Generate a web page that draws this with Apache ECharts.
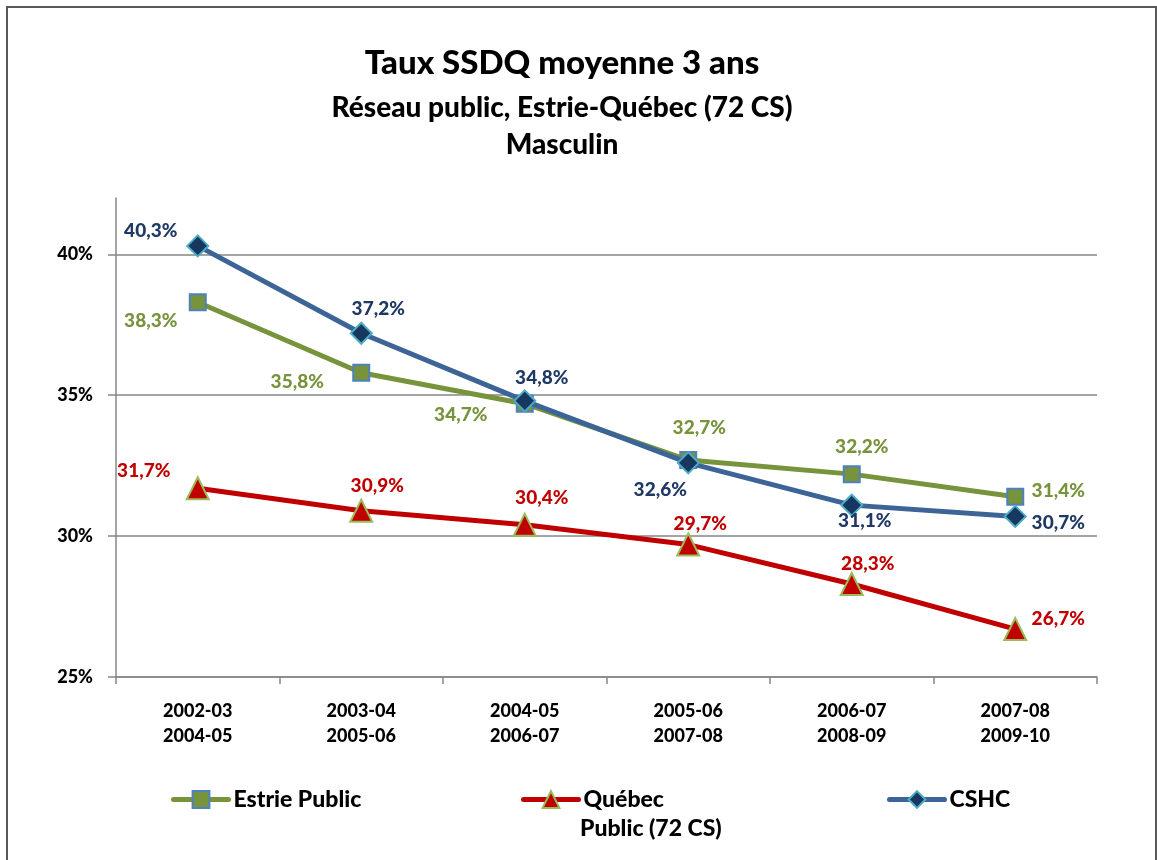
<!DOCTYPE html>
<html>
<head>
<meta charset="utf-8">
<script src="https://cdn.jsdelivr.net/npm/echarts@6/dist/echarts.min.js"></script>
<style>
  html, body { margin: 0; padding: 0; background: #fff; }
  #chart { width: 1157px; height: 860px; }
</style>
</head>
<body>
<div id="chart"></div>
<script>
const categories = ["2002-03\n2004-05", "2003-04\n2005-06", "2004-05\n2006-07", "2005-06\n2007-08", "2006-07\n2008-09", "2007-08\n2009-10"];
const estriePublic = [38.3, 35.8, 34.7, 32.7, 32.2, 31.4];
const quebecPublic = [31.7, 30.9, 30.4, 29.7, 28.3, 26.7];
const cshc = [40.3, 37.2, 34.8, 32.6, 31.1, 30.7];
const yTicks = [25, 30, 35, 40];

const FONT = "Lato, 'Open Sans', sans-serif";
const WEIGHT = 900;

// label offsets per point, so labels sit where excel put them
const estrieOffsets = [[-47, 19], [-64, 9], [-64, 11], [11, -32], [10, -27], [43, -6]];
const quebecOffsets = [[-54, -17], [16, -25], [17, -27], [12, -21], [16, -20], [43, -10]];
const cshcOffsets = [[-47, -15], [17, -24], [17, -23], [-28, 27], [13, 16], [43, 6]];

const fmt = (v) => v.toFixed(1).replace(".", ",") + "%";

function withLabels(values, offsets) {
  return values.map((v, i) => ({
    value: v,
    label: { offset: offsets[i] },
  }));
}

function lineSeries(name, values, offsets, color, symbol, size, markerFill, markerBorder, labelColor, z) {
  return {
    name: name,
    type: "line",
    z: z,
    data: withLabels(values, offsets),
    symbol: symbol,
    symbolSize: size,
    lineStyle: { color: color, width: 5, cap: "round" },
    itemStyle: { color: markerFill, borderColor: markerBorder, borderWidth: 2 },
    label: {
      show: true,
      position: "inside",
      align: "center",
      verticalAlign: "middle",
      color: labelColor,
      fontFamily: FONT,
      fontWeight: WEIGHT,
      fontSize: 19,
      formatter: (p) => fmt(p.value),
    },
    emphasis: { disabled: true },
    animation: false,
  };
}

const chart = echarts.init(document.getElementById("chart"));

const legendBase = {
  orient: "horizontal",
  itemWidth: 55,
  itemHeight: 21,
  itemGap: 4,
  selectedMode: false,
  lineStyle: { width: 5, cap: "round" },
  textStyle: { fontFamily: FONT, fontWeight: WEIGHT, fontSize: 23, color: "#000" },
};

chart.setOption({
  backgroundColor: "#fff",
  textStyle: { fontFamily: FONT },
  graphic: [
    {
      type: "rect",
      shape: { x: 7, y: 7, width: 1149, height: 870 },
      style: { fill: "none", stroke: "#595959", lineWidth: 2 },
      silent: true,
    },
    {
      type: "text",
      x: 562, y: 63,
      style: { text: "Taux SSDQ moyenne 3 ans", font: WEIGHT + " 33px " + FONT, fill: "#000", align: "center", verticalAlign: "middle" },
    },
    {
      type: "text",
      x: 562, y: 108,
      style: { text: "Réseau public, Estrie-Québec (72 CS)", font: WEIGHT + " 28px " + FONT, fill: "#000", align: "center", verticalAlign: "middle" },
    },
    {
      type: "text",
      x: 562, y: 145,
      style: { text: "Masculin", font: WEIGHT + " 28px " + FONT, fill: "#000", align: "center", verticalAlign: "middle" },
    },
    {
      type: "text",
      x: 580, y: 829,
      style: { text: "Public (72 CS)", font: WEIGHT + " 23px " + FONT, fill: "#000", align: "left", verticalAlign: "middle" },
    },
  ],
  legend: [
    Object.assign({}, legendBase, { left: 166, top: 783, data: ["Estrie Public"] }),
    Object.assign({}, legendBase, { left: 516, top: 783, data: ["Québec"] }),
    Object.assign({}, legendBase, { left: 882, top: 783, data: ["CSHC"] }),
  ],
  grid: { left: 116, right: 60, top: 198, bottom: 183, containLabel: false },
  xAxis: {
    type: "category",
    data: categories,
    boundaryGap: true,
    axisLine: { lineStyle: { color: "#868686", width: 1.5 } },
    axisTick: { show: true, length: 7, lineStyle: { color: "#868686", width: 1.5 } },
    axisLabel: {
      margin: 22,
      color: "#000",
      fontFamily: FONT,
      fontWeight: WEIGHT,
      fontSize: 18,
      lineHeight: 25,
    },
  },
  yAxis: {
    type: "value",
    min: yTicks[0],
    max: 42,
    interval: 5,
    axisLine: { show: true, lineStyle: { color: "#868686", width: 1.5 } },
    axisTick: { show: true, length: 8, lineStyle: { color: "#868686", width: 1.5 } },
    splitLine: { show: true, showMaxLine: false, lineStyle: { color: "#868686", width: 1.5 } },
    axisLabel: {
      showMaxLabel: false,
      margin: 23,
      color: "#000",
      fontFamily: FONT,
      fontWeight: WEIGHT,
      fontSize: 18,
      formatter: (v) => (yTicks.indexOf(v) >= 0 ? v + "%" : ""),
    },
  },
  series: [
    lineSeries("Québec", quebecPublic, quebecOffsets, "#C00000", "triangle", 22, "#C00000", "#9BBB59", "#C00000", 2),
    lineSeries("Estrie Public", estriePublic, estrieOffsets, "#77933C", "rect", 16, "#77933C", "#4F81BD", "#77933C", 3),
    lineSeries("CSHC", cshc, cshcOffsets, "#3C6496", "diamond", 21, "#17375E", "#4BACC6", "#1F3864", 4),
  ],
});
</script>
</body>
</html>
